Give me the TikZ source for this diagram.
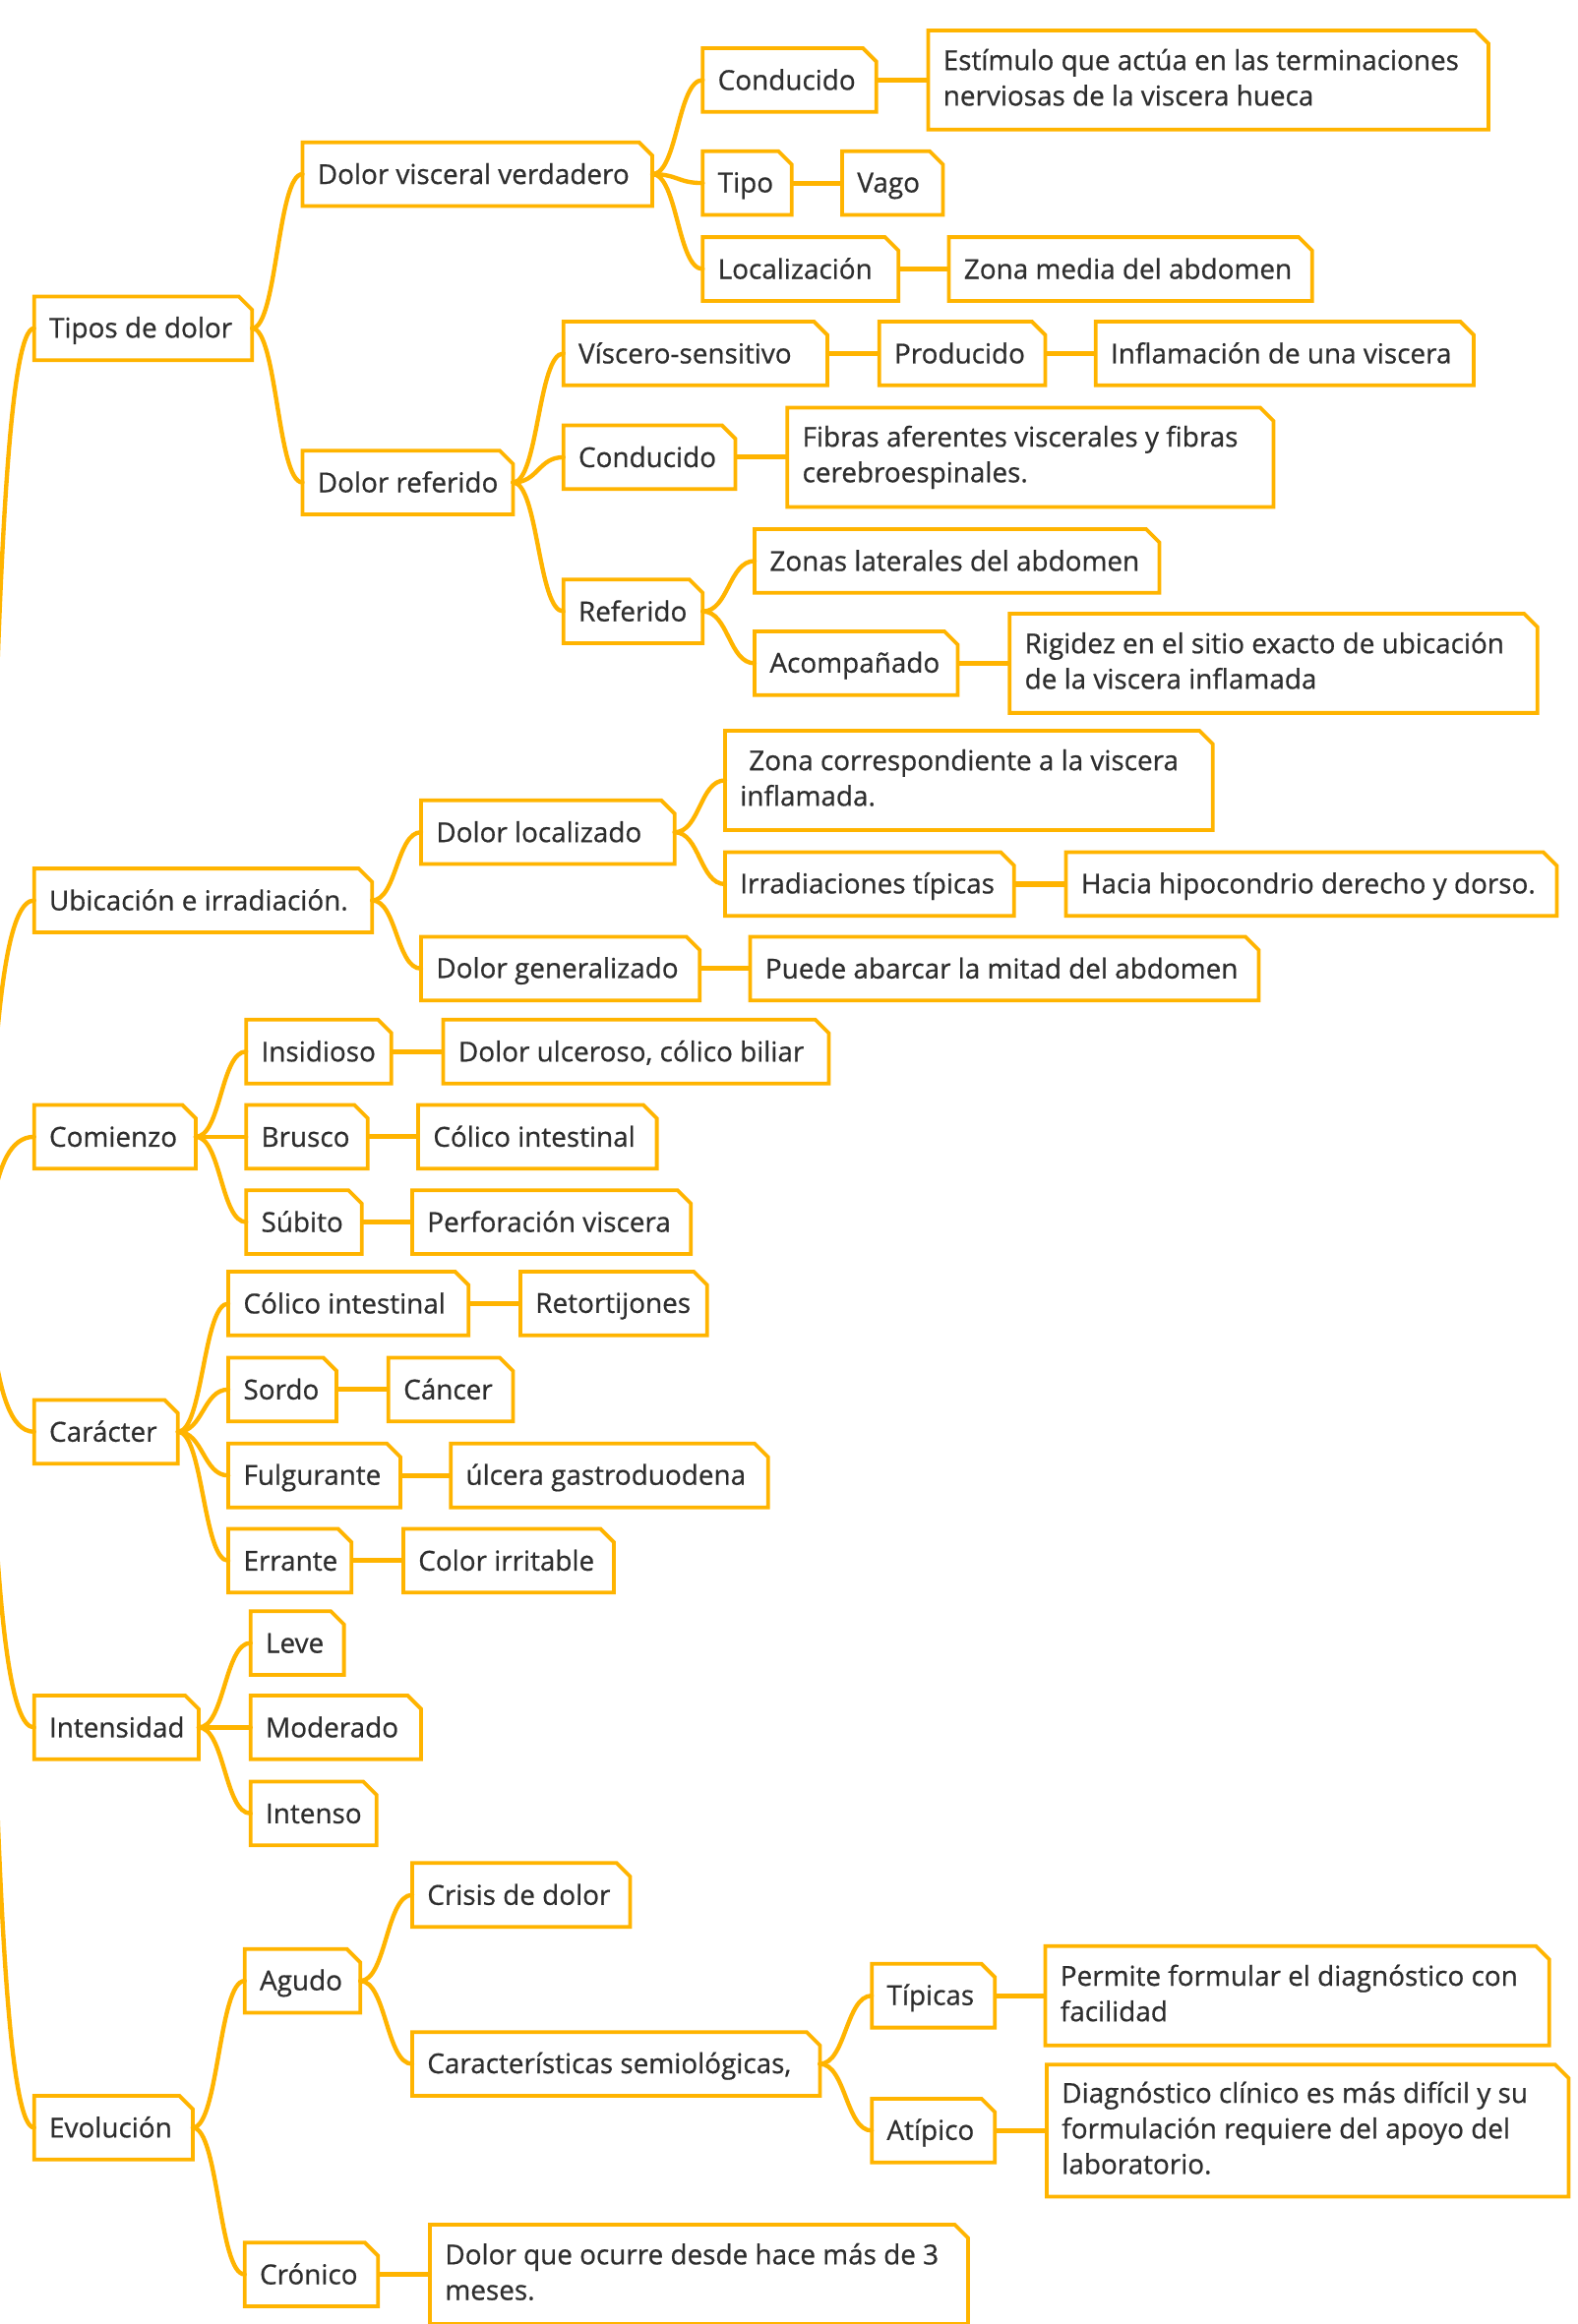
\documentclass[tikz,border=0pt]{standalone}
\usepackage{fontspec}
\setmainfont{Open Sans}
\newfontfamily\boxfont{Open Sans}[FakeBold=0.6]
\usetikzlibrary{calc}
\definecolor{ob}{RGB}{255,180,0}
\definecolor{tx}{RGB}{46,46,46}
\newcommand\mystrut{\rule[-3.7pt]{0pt}{20.7pt}}
\tikzset{
  frame/.style={anchor=north west, inner sep=0pt, outer sep=0pt},
  lbl/.style={anchor=west, inner sep=0pt, align=left, text=tx,
    font=\boxfont\fontsize{18.5}{24}\selectfont,
    execute at begin node=\mystrut, execute at end node=\mystrut},
  boxline/.style={draw=ob, line width=2.5pt, line join=miter},
  link/.style={draw=ob, line width=2.9pt, line cap=round},
  hlink/.style={draw=ob, line width=3.4pt},
}
% box: name, left x, top y, width, height, text
\newcommand\bx[6]{%
  \node[frame, minimum width=#4pt, minimum height=#5pt] (#1) at (#2,#3) {};
  \node[lbl] (#1-t) at ([xshift=10pt]#1.west) {#6};
  \draw[boxline] (#1.south west) -- (#1.north west) -- ([xshift=-9pt]#1.north east)
     -- ([yshift=-9pt]#1.north east) -- (#1.south east) -- cycle;}
% curved connector
\newcommand\cv[2]{%
  \path ($(#1.east)!0.5!(#2.west)$) coordinate (m);
  \draw[link] (#1.east) .. controls (m |- #1.east) and (m |- #2.west) .. (#2.west);}
% connector from the (off-page) root
\newcommand\rc[1]{%
  \draw[link] (root.east) .. controls ([xshift=17pt]root.east) and ([xshift=-33pt]#1.west) .. (#1.west);}
% straight connector
\newcommand\hl[2]{\draw[hlink] (#1.east) -- (#2.west);}

\begin{document}
\begin{tikzpicture}[x=1pt,y=-1pt]
\fill[white] (0,0) rectangle (1064,1568);
\useasboundingbox (0,0) rectangle (1064,1568);

\node[inner sep=0pt, minimum size=0pt] (root) at (-20,849) {};

% level 1
\bx{tipos}{23}{200}{147}{43}{Tipos de dolor}
\bx{ubic}{23}{586}{228}{43}{Ubicación e irradiación.}
\bx{comi}{23}{745.5}{109}{43}{Comienzo}
\bx{cara}{23}{944.5}{97}{43}{Carácter}
\bx{inte}{23}{1144}{111}{43}{Intensidad}
\bx{evol}{23}{1414}{107}{43}{Evolución}

% Tipos de dolor
\bx{dvv}{204}{96}{236}{43}{Dolor visceral verdadero}
\bx{dref}{204}{304}{142}{43}{Dolor referido}
\bx{cond1}{474}{32.5}{117}{43}{Conducido}
\bx{est}{626}{20.5}{378}{67}{Estímulo que actúa en las terminaciones\\nerviosas de la viscera hueca}
\bx{tipo}{474}{102}{60}{43}{Tipo}
\bx{vago}{568}{102}{68}{43}{Vago}
\bx{loca}{474}{160}{132}{43}{Localización}
\bx{zmed}{640}{160}{245}{43}{Zona media del abdomen}
\bx{vis}{380}{217}{178}{43}{Víscero-sensitivo}
\bx{prod}{593}{217}{112}{43}{Producido}
\bx{infl}{739}{217}{255}{43}{Inflamación de una viscera}
\bx{cond2}{380}{287}{116}{43}{Conducido}
\bx{fib}{531}{275}{328}{67}{Fibras aferentes viscerales y fibras\\cerebroespinales.}
\bx{refd}{380}{391}{94}{43}{Referido}
\bx{zlat}{509}{357}{273}{43}{Zonas laterales del abdomen}
\bx{acom}{509}{426}{137}{43}{Acompañado}
\bx{rig}{681}{414}{356}{67}{Rigidez en el sitio exacto de ubicación\\de la viscera inflamada}

% Ubicación
\bx{dloc}{284}{540}{171}{43}{Dolor localizado}
\bx{zcor}{489}{493}{329}{67}{\hspace*{6pt}Zona correspondiente a la viscera\\inflamada.}
\bx{irr}{489}{575}{195}{43}{Irradiaciones típicas}
\bx{hacia}{719}{575}{331}{43}{Hacia hipocondrio derecho y dorso.}
\bx{dgen}{284}{632}{188}{43}{Dolor generalizado}
\bx{pued}{506}{632}{343}{43}{Puede abarcar la mitad del abdomen}

% Comienzo
\bx{ins}{166}{688}{98}{43}{Insidioso}
\bx{dulc}{299}{688}{260}{43}{Dolor ulceroso, cólico biliar}
\bx{bru}{166}{745.5}{82}{43}{Brusco}
\bx{cint1}{282}{745.5}{161}{43}{Cólico intestinal}
\bx{sub}{166}{803}{78}{43}{Súbito}
\bx{perf}{278}{803}{188}{43}{Perforación viscera}

% Carácter
\bx{cint2}{154}{858}{162}{43}{Cólico intestinal}
\bx{ret}{351}{858}{126}{43}{Retortijones}
\bx{sor}{154}{916}{73}{43}{Sordo}
\bx{can}{262}{916}{84}{43}{Cáncer}
\bx{ful}{154}{974}{116}{43}{Fulgurante}
\bx{ulc}{304}{974}{214}{43}{úlcera gastroduodena}
\bx{err}{154}{1031.5}{83}{43}{Errante}
\bx{col}{272}{1031.5}{142}{43}{Color irritable}

% Intensidad
\bx{lev}{169}{1087}{63}{43}{Leve}
\bx{mod}{169}{1144}{115}{43}{Moderado}
\bx{int}{169}{1202}{85}{43}{Intenso}

% Evolución
\bx{agu}{165}{1315}{78}{43}{Agudo}
\bx{cris}{278}{1257}{147}{43}{Crisis de dolor}
\bx{carsem}{278}{1371}{275}{43}{Características semiológicas,}
\bx{tip}{588}{1325}{83}{43}{Típicas}
\bx{perm}{705}{1313}{340}{67}{Permite formular el diagnóstico con\\facilidad}
\bx{ati}{588}{1416}{83}{43}{Atípico}
\bx{diag}{706}{1393}{352}{89}{Diagnóstico clínico es más difícil y su\\formulación requiere del apoyo del\\laboratorio.}
\bx{cro}{165}{1513}{90}{43}{Crónico}
\bx{dque}{290}{1501}{363}{67}{Dolor que ocurre desde hace más de 3\\meses.}

% connectors
\rc{tipos}\rc{ubic}\rc{comi}\rc{cara}\rc{inte}\rc{evol}
\cv{tipos}{dvv}\cv{tipos}{dref}
\cv{dvv}{cond1}\cv{dvv}{tipo}\cv{dvv}{loca}
\hl{cond1}{est}\hl{tipo}{vago}\hl{loca}{zmed}
\cv{dref}{vis}\cv{dref}{cond2}\cv{dref}{refd}
\hl{vis}{prod}\hl{prod}{infl}\hl{cond2}{fib}
\cv{refd}{zlat}\cv{refd}{acom}\hl{acom}{rig}
\cv{ubic}{dloc}\cv{ubic}{dgen}
\cv{dloc}{zcor}\cv{dloc}{irr}\hl{irr}{hacia}\hl{dgen}{pued}
\cv{comi}{ins}\cv{comi}{bru}\cv{comi}{sub}
\hl{ins}{dulc}\hl{bru}{cint1}\hl{sub}{perf}
\cv{cara}{cint2}\cv{cara}{sor}\cv{cara}{ful}\cv{cara}{err}
\hl{cint2}{ret}\hl{sor}{can}\hl{ful}{ulc}\hl{err}{col}
\cv{inte}{lev}\cv{inte}{mod}\cv{inte}{int}
\cv{evol}{agu}\cv{evol}{cro}
\cv{agu}{cris}\cv{agu}{carsem}
\cv{carsem}{tip}\cv{carsem}{ati}
\hl{tip}{perm}\hl{ati}{diag}\hl{cro}{dque}
\end{tikzpicture}
\end{document}
